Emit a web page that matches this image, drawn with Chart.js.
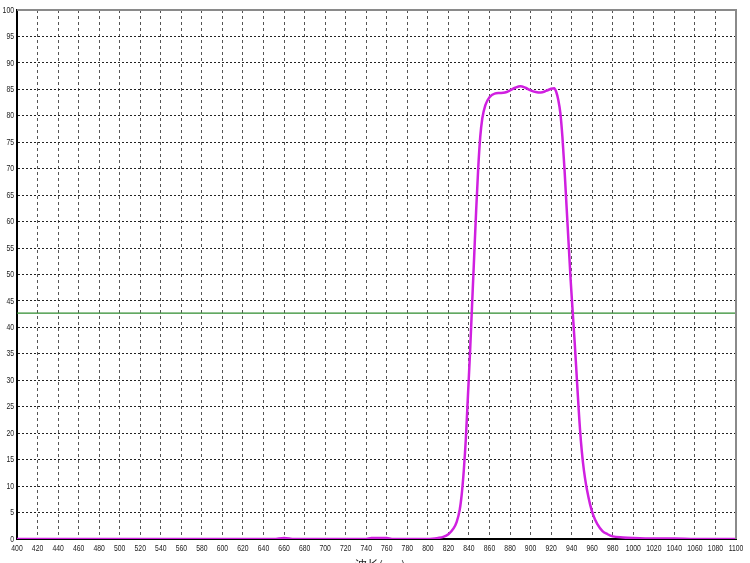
<!DOCTYPE html>
<html>
<head>
<meta charset="utf-8">
<script src="https://cdn.jsdelivr.net/npm/chart.js@4.4.1/dist/chart.umd.min.js"></script>
<style>
  html, body { margin: 0; padding: 0; background: #fff; }
  #grafico { display: block; }
</style>
</head>
<body>
<canvas id="grafico" width="750" height="563"></canvas>
<script>
// comprimento de onda (nm) e transmitancia (%)
const comprimentos = [
  400, 500, 600, 650, 660, 670, 700, 740, 745, 760, 765, 800, 810, 815, 820, 825, 828, 831, 833, 835,
  837, 839, 841, 843, 845, 847, 849, 851, 853, 856, 860, 865, 870, 875, 880, 885, 890, 895,
  900, 905, 910, 915, 920, 923, 925, 927, 929, 931, 933, 935, 937, 939, 941, 943, 945, 947,
  949, 951, 953, 955, 958, 961, 965, 970, 975, 980, 990, 1000, 1020, 1040, 1060, 1100
];
const transmitancia = [
  0, 0, 0, 0, 0.2, 0, 0, 0, 0.2, 0.2, 0, 0, 0.2, 0.4, 0.9, 2, 3.2, 5.5, 8.5, 13,
  19, 27, 35, 44, 53, 62, 70, 76, 79.5, 82, 83.5, 84.2, 84.3, 84.4, 84.8, 85.3, 85.6, 85.3,
  84.8, 84.5, 84.4, 84.7, 85.1, 85.2, 84.5, 83, 80.5, 76, 70, 63, 56, 49, 43, 37, 30.5, 24,
  18.5, 14.5, 11.5, 9.2, 6.5, 4.5, 2.8, 1.5, 0.9, 0.5, 0.3, 0.2, 0.1, 0.1, 0, 0
];

// linha de referencia horizontal (verde)
const referenciaX = [400, 1100];
const referenciaY = [42.7, 42.7];

const eixoX = { min: 400, max: 1100, passo: 20 };
const eixoY = { min: 0, max: 100, passo: 5 };
const tituloX = '波长(nm)';

// rotulos dos eixos estreitos (fonte comprimida na horizontal)
const rotulosPlugin = {
  id: 'rotulos',
  afterDraw(chart) {
    const { ctx, chartArea, scales } = chart;
    ctx.save();
    ctx.fillStyle = '#222';
    ctx.font = "9.5px 'Liberation Sans', sans-serif";

    // eixo x
    ctx.textAlign = 'center';
    ctx.textBaseline = 'top';
    scales.x.ticks.forEach(t => {
      const px = scales.x.getPixelForValue(t.value);
      ctx.save();
      ctx.translate(px, chartArea.bottom + 5);
      ctx.scale(0.72, 1);
      ctx.fillText(String(t.value), 0, 0);
      ctx.restore();
    });

    // eixo y
    ctx.textAlign = 'right';
    ctx.textBaseline = 'middle';
    scales.y.ticks.forEach(t => {
      const py = scales.y.getPixelForValue(t.value);
      ctx.save();
      ctx.translate(chartArea.left - 3, py);
      ctx.scale(0.72, 1);
      ctx.fillText(String(t.value), 0, 0);
      ctx.restore();
    });

    // borda superior/direita cinza
    ctx.strokeStyle = '#8a8a8a';
    ctx.lineWidth = 2;
    ctx.beginPath();
    ctx.moveTo(chartArea.left, chartArea.top);
    ctx.lineTo(chartArea.right, chartArea.top);
    ctx.lineTo(chartArea.right, chartArea.bottom);
    ctx.stroke();

    // titulo do eixo x, cortado pela borda inferior
    ctx.font = "12px 'Noto Sans CJK SC', sans-serif";
    ctx.textAlign = 'center';
    ctx.textBaseline = 'top';
    ctx.fillText(tituloX, 380, 559);
    ctx.restore();
  }
};

const ctx = document.getElementById('grafico').getContext('2d');
new Chart(ctx, {
  type: 'line',
  data: {
    datasets: [
      {
        data: comprimentos.map((x, i) => ({ x: x, y: transmitancia[i] })),
        borderColor: '#d020e0',
        borderWidth: 2.5,
        pointRadius: 0,
        cubicInterpolationMode: 'monotone',
        order: 1
      },
      {
        data: referenciaX.map((x, i) => ({ x: x, y: referenciaY[i] })),
        borderColor: '#2e8b2e',
        borderWidth: 1.2,
        pointRadius: 0,
        order: 2
      }
    ]
  },
  options: {
    responsive: false,
    animation: false,
    devicePixelRatio: 1,
    layout: { padding: { top: 10, right: 14, left: 0, bottom: 0 } },
    plugins: {
      legend: { display: false },
      tooltip: { enabled: false }
    },
    scales: {
      x: {
        type: 'linear',
        min: eixoX.min,
        max: eixoX.max,
        afterFit: s => { s.height = 24; },
        ticks: { stepSize: eixoX.passo, autoSkip: false, display: false },
        grid: { color: '#555', drawTicks: false, lineWidth: 1 },
        border: { color: '#000', width: 2, dash: [3, 3] }
      },
      y: {
        min: eixoY.min,
        max: eixoY.max,
        afterFit: s => { s.width = 17; },
        ticks: { stepSize: eixoY.passo, display: false },
        grid: { color: '#222', drawTicks: false, lineWidth: 1 },
        border: { color: '#000', width: 2, dash: [2, 2] }
      }
    }
  },
  plugins: [rotulosPlugin]
});
</script>
</body>
</html>
